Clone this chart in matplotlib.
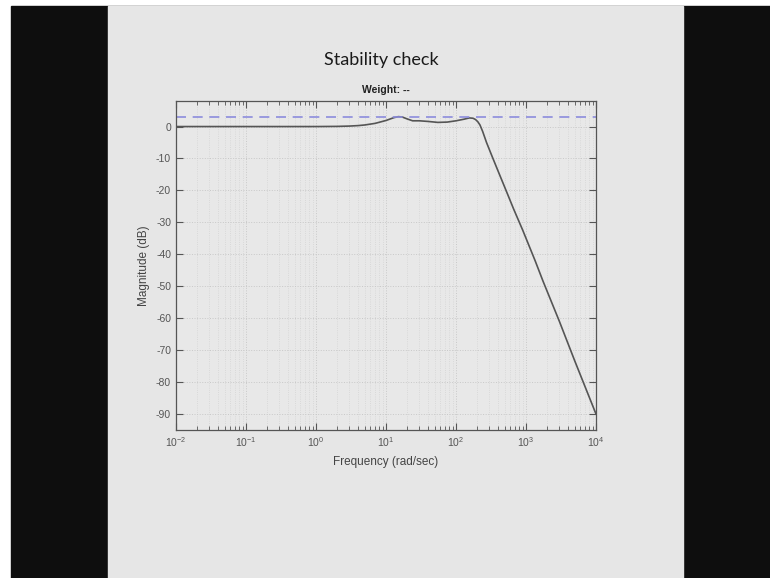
import numpy as np
import matplotlib
matplotlib.use("Agg")
import matplotlib.pyplot as plt
from matplotlib.patches import Rectangle
from matplotlib.ticker import LogLocator, NullFormatter, FixedLocator

plt.rcParams['font.family'] = ['Liberation Sans', 'DejaVu Sans']
plt.rcParams['axes.unicode_minus'] = False

# magnitude response
freq = [0.01, 0.1, 0.5, 1, 2, 3, 4, 5, 7, 10, 13, 15, 17, 20, 24, 30, 40, 55,
        75, 100, 130, 155, 175, 190, 205, 220, 240, 273, 330, 427, 530, 665,
        900, 1350, 1750, 3000, 5000, 10000]
mag = [0, 0, 0, 0, 0.05, 0.15, 0.3, 0.5, 1.0, 1.9, 2.8, 3.1, 3.0, 2.4, 1.8,
       1.8, 1.6, 1.3, 1.4, 1.8, 2.3, 2.7, 2.6, 2.2, 1.5, 0.5, -1.5, -5.0,
       -9.5, -15.5, -20.5, -25.8, -32.5, -42, -48.4, -61, -73.5, -90]
limit_db = 3.0

yticks = [0, -10, -20, -30, -40, -50, -60, -70, -80, -90]

W, H = 770, 578
fig = plt.figure(figsize=(W / 100, H / 100), dpi=100, facecolor='white')

# black letterbox + light slide
fig.patches.append(Rectangle((11 / W, 0), 1 - 11 / W, (H - 6) / H,
                             transform=fig.transFigure, color='#0e0e0e', zorder=-2))
fig.patches.append(Rectangle((108 / W, 0), (683 - 108) / W, (H - 6) / H,
                             transform=fig.transFigure, color='#e6e6e6', zorder=-1))

ax = fig.add_axes([176 / W, (H - 430) / H, 420 / W, 329 / H])
ax.set_zorder(2)
ax.set_facecolor('#e8e8e8')

ax.semilogx(freq, mag, color='#555555', lw=1.2)
ax.axhline(limit_db, color='#8c8cdc', lw=1.2, dashes=(6, 4))

ax.set_xlim(1e-2, 1e4)
ax.set_ylim(-95, 8)
ax.yaxis.set_major_locator(FixedLocator(yticks))
ax.xaxis.set_major_locator(LogLocator(base=10, numticks=10))
ax.xaxis.set_minor_locator(LogLocator(base=10, subs=np.arange(2, 10), numticks=20))
ax.xaxis.set_minor_formatter(NullFormatter())

ax.grid(True, which='major', ls=':', color='#c8c8c8', lw=0.7)
ax.grid(True, which='minor', axis='x', ls=':', color='#d4d4d4', lw=0.6)

ax.tick_params(which='both', direction='in', top=True, right=True,
               colors='#555555', labelsize=7.5)
ax.tick_params(which='major', length=5)
ax.tick_params(which='minor', length=3)
for s in ax.spines.values():
    s.set_color('#555555')
    s.set_linewidth(0.9)

ax.set_xlabel('Frequency (rad/sec)', fontsize=8.5, color='#444444', labelpad=5)
ax.set_ylabel('Magnitude (dB)', fontsize=8.5, color='#444444', labelpad=4)
ax.set_title('Weight: --', fontsize=7.5, fontweight='bold', color='#222222', pad=6)

fig.text(381 / W, 1 - 60 / H, 'Stability check', fontsize=13, family='Lato',
         ha='center', va='center', color='#1a1a1a')

fig.savefig('out.png', dpi=100, facecolor=fig.get_facecolor())
